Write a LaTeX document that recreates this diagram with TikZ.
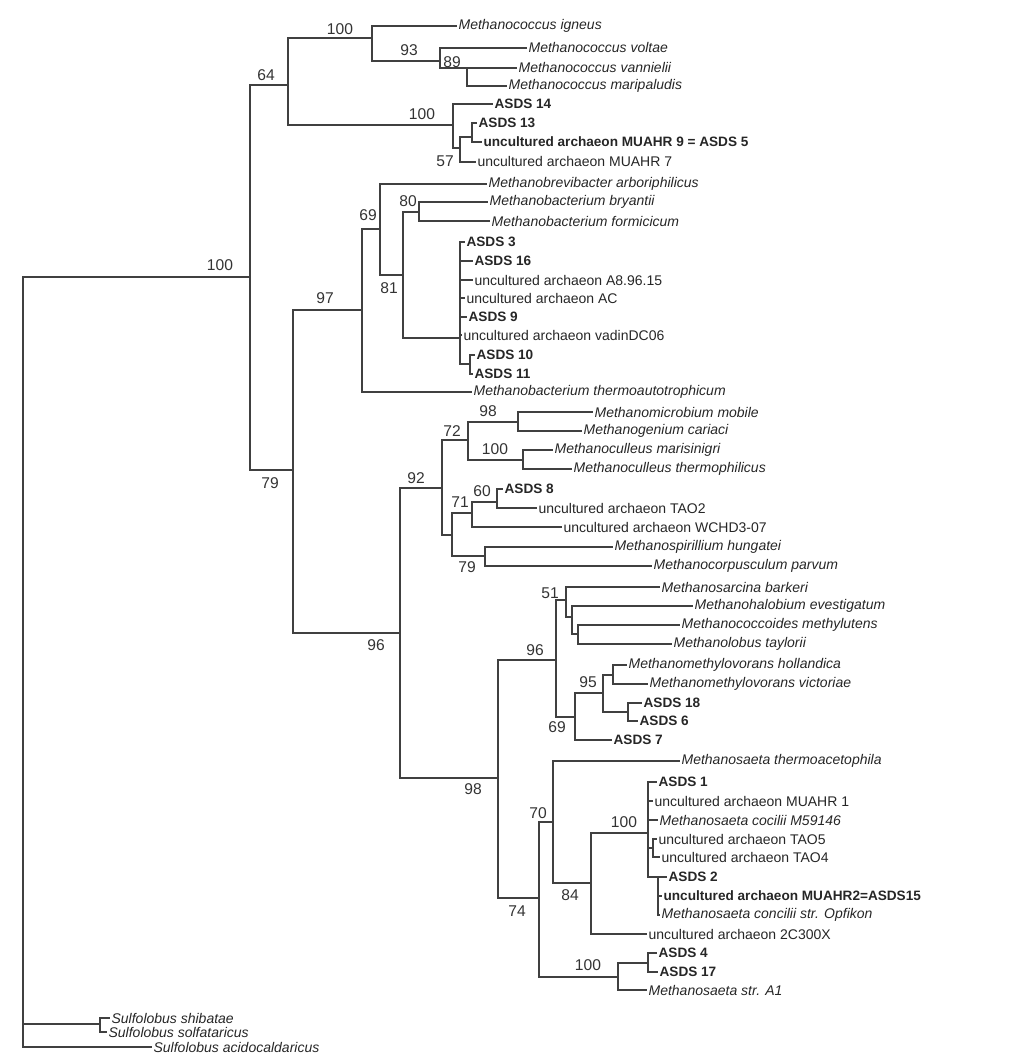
\documentclass[tikz,border=0pt]{standalone}
\usepackage{fontspec}
\setmainfont{Liberation Sans}
\newcommand{\taxsize}{\fontsize{7}{8}\selectfont}
\newcommand{\clonesize}{\fontsize{6.8}{8}\selectfont}
\newcommand{\bootsize}{\fontsize{7.8}{9}\selectfont}
\tikzstyle{taxon} = [anchor=west, inner sep=0.6pt, text=black!85, font=\taxsize]
\tikzstyle{species} = [taxon, font=\taxsize\itshape]
\tikzstyle{clone} = [taxon, font=\clonesize\bfseries]
\tikzstyle{boot} = [inner sep=0pt, text=black!80, font=\bootsize]
\tikzstyle{branch} = [line width=0.9pt, draw=black!75]

\begin{document}
\begin{tikzpicture}[x=0.5pt, y=-0.5pt]
\useasboundingbox (0,0) rectangle (1025,1063);

%Internal nodes
\coordinate (root) at (23,660);
\coordinate (n100a) at (250,277);
\coordinate (n64) at (288,85);
\coordinate (n100mc) at (372,38);
\coordinate (n93) at (440,61);
\coordinate (n89) at (467,68);
\coordinate (n100as) at (453,125);
\coordinate (n57) at (460,148);
\coordinate (n13) at (472,137);
\coordinate (n79) at (293,470);
\coordinate (n97) at (362,310);
\coordinate (n69) at (380,229);
\coordinate (n81) at (403,275);
\coordinate (n80) at (419,212);
\coordinate (n100mb) at (460,338);
\coordinate (n1011) at (470,364);
\coordinate (n96a) at (400,633);
\coordinate (n92) at (442,488);
\coordinate (n72) at (468,440);
\coordinate (n98a) at (518,422);
\coordinate (n100mcu) at (523,460);
\coordinate (nlow) at (452,535);
\coordinate (n71) at (472,513);
\coordinate (n60) at (497,502);
\coordinate (n79b) at (485,556);
\coordinate (n98b) at (498,778);
\coordinate (n96b) at (556,660);
\coordinate (n51) at (566,600);
\coordinate (nsar) at (572,617);
\coordinate (ncoc) at (578,634);
\coordinate (n69b) at (575,717);
\coordinate (n95) at (603,693);
\coordinate (nmmv) at (613,675);
\coordinate (n186) at (628,712);
\coordinate (n74) at (539,898);
\coordinate (n70) at (553,822);
\coordinate (n84) at (591,883);
\coordinate (n100ms) at (648,833);
\coordinate (ntao) at (653,848);
\coordinate (nas2) at (658,877);
\coordinate (n100a4) at (618,977);
\coordinate (na417) at (648,963);
\coordinate (nsulf) at (100,1024);

%Bootstrap values
\node (b100a) [boot] at (220,265) {100};
\node (b64) [boot] at (266,75) {64};
\node (b100mc) [boot] at (340,29) {100};
\node (b93) [boot] at (409,50) {93};
\node (b89) [boot] at (452,62) {89};
\node (b100as) [boot] at (422,114) {100};
\node (b57) [boot] at (445,161) {57};
\node (b69) [boot] at (368,215) {69};
\node (b80) [boot] at (408,201) {80};
\node (b81) [boot] at (389,288) {81};
\node (b97) [boot] at (325,298) {97};
\node (b79) [boot] at (270,483) {79};
\node (b96a) [boot] at (376,645) {96};
\node (b92) [boot] at (416,478) {92};
\node (b72) [boot] at (452,431) {72};
\node (b98a) [boot] at (488,411) {98};
\node (b100mcu) [boot] at (495,449) {100};
\node (b71) [boot] at (460,502) {71};
\node (b60) [boot] at (482,491) {60};
\node (b79b) [boot] at (467,567) {79};
\node (b96b) [boot] at (535,650) {96};
\node (b51) [boot] at (550,593) {51};
\node (b95) [boot] at (588,682) {95};
\node (b69b) [boot] at (557,727) {69};
\node (b98b) [boot] at (473,789) {98};
\node (b74) [boot] at (517,911) {74};
\node (b70) [boot] at (538,813) {70};
\node (b84) [boot] at (570,895) {84};
\node (b100ms) [boot] at (624,822) {100};
\node (b100a4) [boot] at (588,965) {100};

%Methanococcales
\node (igneus) [species] at (457,26) {Methanococcus igneus};
\node (voltae) [species] at (527,48) {Methanococcus voltae};
\node (vannielii) [species] at (517,68) {Methanococcus vannielii};
\node (maripaludis) [species] at (507,86) {Methanococcus maripaludis};
\node (asds14) [clone] at (493,104) {ASDS 14};
\node (asds13) [clone] at (477,123) {ASDS 13};
\node (muahr9) [clone] at (482,142) {uncultured archaeon MUAHR 9 = ASDS 5};
\node (muahr7) [taxon] at (476,162) {uncultured archaeon MUAHR 7};
%Methanobacteriales
\node (brevi) [species] at (487,184) {Methanobrevibacter arboriphilicus};
\node (bryantii) [species] at (488,202) {Methanobacterium bryantii};
\node (formicicum) [species] at (490,221) {Methanobacterium formicicum};
\node (asds3) [clone] at (465,242) {ASDS 3};
\node (asds16) [clone] at (473,261) {ASDS 16};
\node (a8) [taxon] at (473,280) {uncultured archaeon A8.96.15};
\node (ac) [taxon] at (465,298) {uncultured archaeon AC};
\node (asds9) [clone] at (467,317) {ASDS 9};
\node (vadin) [taxon] at (462,335) {uncultured archaeon vadinDC06};
\node (asds10) [clone] at (475,355) {ASDS 10};
\node (asds11) [clone] at (473,374) {ASDS 11};
\node (thermo) [species] at (472,392) {Methanobacterium thermoautotrophicum};
%Methanomicrobiales
\node (mobile) [species] at (593,412) {Methanomicrobium mobile};
\node (cariaci) [species] at (582,431) {Methanogenium cariaci};
\node (marisnigri) [species] at (553,450) {Methanoculleus marisinigri};
\node (thermophil) [species] at (572,469) {Methanoculleus thermophilicus};
\node (asds8) [clone] at (503,489) {ASDS 8};
\node (tao2) [taxon] at (537,508) {uncultured archaeon TAO2};
\node (wchd) [taxon] at (562,527) {uncultured archaeon WCHD3-07};
\node (spirill) [species] at (613,547) {Methanospirillium hungatei};
\node (corpusc) [species] at (652,566) {Methanocorpusculum parvum};
%Methanosarcinales
\node (barkeri) [species] at (660,587) {Methanosarcina barkeri};
\node (evestig) [species] at (693,606) {Methanohalobium evestigatum};
\node (methylut) [species] at (680,625) {Methanococcoides methylutens};
\node (taylorii) [species] at (672,644) {Methanolobus taylorii};
\node (holland) [species] at (627,665) {Methanomethylovorans hollandica};
\node (victor) [species] at (648,684) {Methanomethylovorans victoriae};
\node (asds18) [clone] at (642,703) {ASDS 18};
\node (asds6) [clone] at (638,721) {ASDS 6};
\node (asds7) [clone] at (612,740) {ASDS 7};
%Methanosaeta
\node (thermoac) [species] at (680,761) {Methanosaeta thermoacetophila};
\node (asds1) [clone] at (657,782) {ASDS 1};
\node (muahr1) [taxon] at (653,801) {uncultured archaeon MUAHR 1};
\node (cocilii) [species] at (658,820) {Methanosaeta cocilii M59146};
\node (tao5) [taxon] at (657,839) {uncultured archaeon TAO5};
\node (tao4) [taxon] at (660,857) {uncultured archaeon TAO4};
\node (asds2) [clone] at (667,877) {ASDS 2};
\node (muahr2) [clone] at (662,896) {uncultured archaeon MUAHR2=ASDS15};
\node (opfikon) [species] at (660,915) {Methanosaeta concilii str. Opfikon};
\node (c300x) [taxon] at (647,934) {uncultured archaeon 2C300X};
\node (asds4) [clone] at (657,953) {ASDS 4};
\node (asds17) [clone] at (658,972) {ASDS 17};
\node (a1) [species] at (647,990) {Methanosaeta str. A1};
%Outgroup
\node (shibatae) [species] at (110,1018) {Sulfolobus shibatae};
\node (solfat) [species] at (107,1032) {Sulfolobus solfataricus};
\node (acido) [species] at (152,1047) {Sulfolobus acidocaldaricus};

%branches
\draw [branch] (root) |- (n100a);
\draw [branch] (root) |- (nsulf);
\draw [branch] (root) |- (acido.west);
\draw [branch] (nsulf) |- (shibatae.west);
\draw [branch] (nsulf) |- (solfat.west);
\draw [branch] (n100a) |- (n64);
\draw [branch] (n100a) |- (n79);
\draw [branch] (n64) |- (n100mc);
\draw [branch] (n64) |- (n100as);
\draw [branch] (n100mc) |- (igneus.west);
\draw [branch] (n100mc) |- (n93);
\draw [branch] (n93) |- (voltae.west);
\draw [branch] (n93) |- (n89);
\draw [branch] (n89) |- (vannielii.west);
\draw [branch] (n89) |- (maripaludis.west);
\draw [branch] (n100as) |- (asds14.west);
\draw [branch] (n100as) |- (n57);
\draw [branch] (n57) |- (n13);
\draw [branch] (n57) |- (muahr7.west);
\draw [branch] (n13) |- (asds13.west);
\draw [branch] (n13) |- (muahr9.west);
\draw [branch] (n79) |- (n97);
\draw [branch] (n79) |- (n96a);
\draw [branch] (n97) |- (n69);
\draw [branch] (n97) |- (thermo.west);
\draw [branch] (n69) |- (brevi.west);
\draw [branch] (n69) |- (n81);
\draw [branch] (n81) |- (n80);
\draw [branch] (n81) |- (n100mb);
\draw [branch] (n80) |- (bryantii.west);
\draw [branch] (n80) |- (formicicum.west);
\draw [branch] (n100mb) |- (asds3.west);
\draw [branch] (n100mb) |- (asds16.west);
\draw [branch] (n100mb) |- (a8.west);
\draw [branch] (n100mb) |- (ac.west);
\draw [branch] (n100mb) |- (asds9.west);
\draw [branch] (n100mb) |- (vadin.west);
\draw [branch] (n100mb) |- (n1011);
\draw [branch] (n1011) |- (asds10.west);
\draw [branch] (n1011) |- (asds11.west);
\draw [branch] (n96a) |- (n92);
\draw [branch] (n96a) |- (n98b);
\draw [branch] (n92) |- (n72);
\draw [branch] (n92) |- (nlow);
\draw [branch] (n72) |- (n98a);
\draw [branch] (n72) |- (n100mcu);
\draw [branch] (n98a) |- (mobile.west);
\draw [branch] (n98a) |- (cariaci.west);
\draw [branch] (n100mcu) |- (marisnigri.west);
\draw [branch] (n100mcu) |- (thermophil.west);
\draw [branch] (nlow) |- (n71);
\draw [branch] (nlow) |- (n79b);
\draw [branch] (n71) |- (n60);
\draw [branch] (n71) |- (wchd.west);
\draw [branch] (n60) |- (asds8.west);
\draw [branch] (n60) |- (tao2.west);
\draw [branch] (n79b) |- (spirill.west);
\draw [branch] (n79b) |- (corpusc.west);
\draw [branch] (n98b) |- (n96b);
\draw [branch] (n98b) |- (n74);
\draw [branch] (n96b) |- (n51);
\draw [branch] (n96b) |- (n69b);
\draw [branch] (n51) |- (barkeri.west);
\draw [branch] (n51) |- (nsar);
\draw [branch] (nsar) |- (evestig.west);
\draw [branch] (nsar) |- (ncoc);
\draw [branch] (ncoc) |- (methylut.west);
\draw [branch] (ncoc) |- (taylorii.west);
\draw [branch] (n69b) |- (n95);
\draw [branch] (n69b) |- (asds7.west);
\draw [branch] (n95) |- (nmmv);
\draw [branch] (n95) |- (n186);
\draw [branch] (nmmv) |- (holland.west);
\draw [branch] (nmmv) |- (victor.west);
\draw [branch] (n186) |- (asds18.west);
\draw [branch] (n186) |- (asds6.west);
\draw [branch] (n74) |- (n70);
\draw [branch] (n74) |- (n100a4);
\draw [branch] (n70) |- (thermoac.west);
\draw [branch] (n70) |- (n84);
\draw [branch] (n84) |- (n100ms);
\draw [branch] (n84) |- (c300x.west);
\draw [branch] (n100ms) |- (asds1.west);
\draw [branch] (n100ms) |- (muahr1.west);
\draw [branch] (n100ms) |- (cocilii.west);
\draw [branch] (n100ms) |- (ntao);
\draw [branch] (n100ms) |- (nas2);
\draw [branch] (ntao) |- (tao5.west);
\draw [branch] (ntao) |- (tao4.west);
\draw [branch] (nas2) |- (asds2.west);
\draw [branch] (nas2) |- (muahr2.west);
\draw [branch] (nas2) |- (opfikon.west);
\draw [branch] (n100a4) |- (na417);
\draw [branch] (n100a4) |- (a1.west);
\draw [branch] (na417) |- (asds4.west);
\draw [branch] (na417) |- (asds17.west);

\end{tikzpicture}
\end{document}
